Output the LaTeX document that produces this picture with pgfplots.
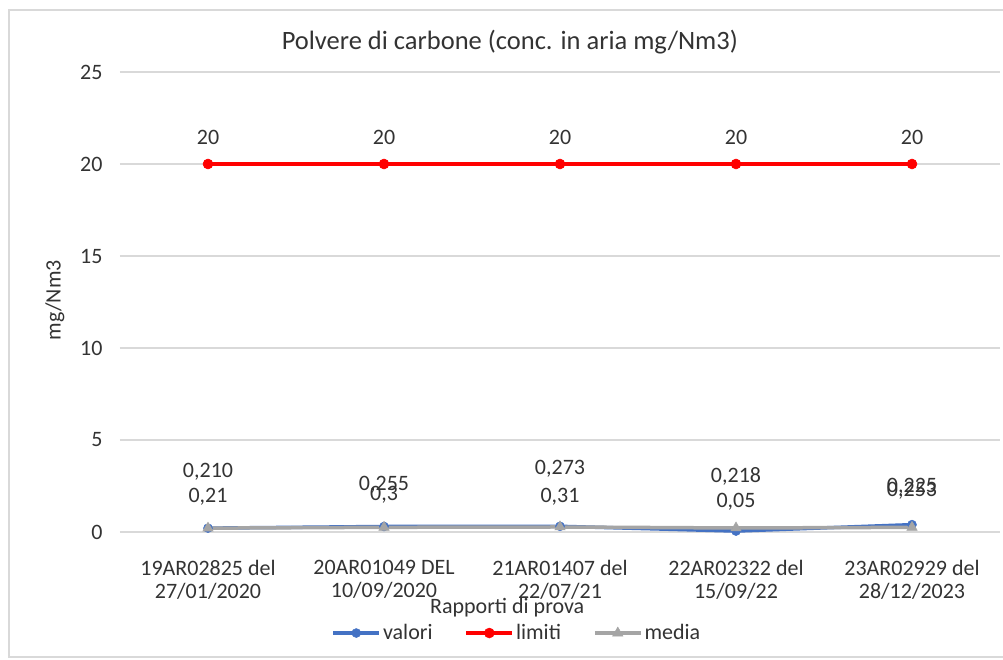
\documentclass[border=0pt]{standalone}
\usepackage{fontspec}
\setmainfont{Carlito}
\usepackage{pgfplots}
\pgfplotsset{compat=1.18}
\definecolor{cblue}{HTML}{4472C4}
\definecolor{cred}{HTML}{FF0000}
\definecolor{cgrey}{HTML}{A5A5A5}
\definecolor{cgrid}{HTML}{D9D9D9}
\definecolor{ctext}{HTML}{333333}
\newcommand{\fs}{\fontsize{22}{23}\selectfont}
\begin{document}
\begin{tikzpicture}
\path[use as bounding box] (-120pt,-127pt) rectangle (883pt,532pt);
\draw[cgrid, line width=1.5pt] (-111pt,-125pt) rectangle (900pt,522pt);
\begin{axis}[
  at={(0pt,0pt)}, anchor=south west,
  scale only axis,
  width=880pt, height=460pt,
  xmin=-0.5, xmax=4.5,
  ymin=0, ymax=25,
  ytick={0,5,10,15,20,25},
  xtick={0,1,2,3,4},
  xticklabels={{19AR02825 del\\27/01/2020},{20AR01049 DEL\\10/09/2020},{21AR01407 del\\22/07/21},{22AR02322 del\\15/09/22},{23AR02929 del\\28/12/2023}},
  xticklabel style={align=center, font=\fs, text=ctext, anchor=north, yshift=-25pt},
  yticklabel style={font=\fs, text=ctext, anchor=east, xshift=-14pt},
  /pgf/number format/assume math mode=true,
  ymajorgrids,
  grid style={cgrid, line width=1.5pt},
  axis line style={draw=none},
  major tick length=0pt,
  clip=false,
  title={Polvere di carbone (conc. in aria mg/Nm3)},
  title style={at={(0.443,1.052)}, anchor=center, font=\fontsize{26.5}{28}\selectfont, text=ctext},
  ylabel={mg/Nm3},
  ylabel style={at={(-0.074,0.504)}, anchor=center, rotate=0, font=\fs, text=ctext},
  xlabel={Rapporti di prova},
  xlabel style={at={(0.440,-0.165)}, anchor=center, font=\fs, text=ctext},
  legend columns=3,
  legend style={at={(0.451,-0.2196)}, anchor=center, draw=none, fill=none, font=\fs, text=ctext,
    /tikz/every even column/.append style={column sep=30pt}, inner sep=0pt},
  legend image code/.code={
    \draw[mark repeat=2, mark phase=2, #1] plot coordinates {(0pt,0pt) (23pt,0pt) (46pt,0pt)};
  },
  point meta=explicit symbolic,
  nodes near coords,
  nodes near coords style={anchor=center, font=\fs, text=ctext, yshift=\dy pt},
  visualization depends on={\thisrow{dy} \as \dy},
]
\addplot[cblue, line width=3.5pt, mark=*, mark size=4.5pt, mark options={fill=cblue, draw=cblue, line width=0.5pt}]
  table[x=x, y=y, meta=lab] {
x y lab dy
0 0.21 0,21 31
1 0.30 0,3 31.5
2 0.31 0,31 29.3
3 0.05 0,05 29
4 0.40 0,225 37.5
};
\addlegendentry{valori}
\addplot[cred, line width=3.5pt, mark=*, mark size=5pt, mark options={fill=cred, draw=cred, line width=0.5pt}]
  table[x=x, y=y, meta=lab] {
x y lab dy
0 20 20 27
1 20 20 27
2 20 20 27
3 20 20 27
4 20 20 27
};
\addlegendentry{limiti}
\addplot[cgrey, line width=3.5pt, mark=triangle*, mark size=6pt, mark options={fill=cgrey, draw=cgrey, line width=0.5pt}]
  table[x=x, y=y, meta=lab] {
x y lab dy
0 0.210 0,210 56
1 0.255 0,255 42.3
2 0.273 0,273 58
3 0.218 0,218 52
4 0.253 0,253 36.3
};
\addlegendentry{media}
\end{axis}
\end{tikzpicture}
\end{document}
